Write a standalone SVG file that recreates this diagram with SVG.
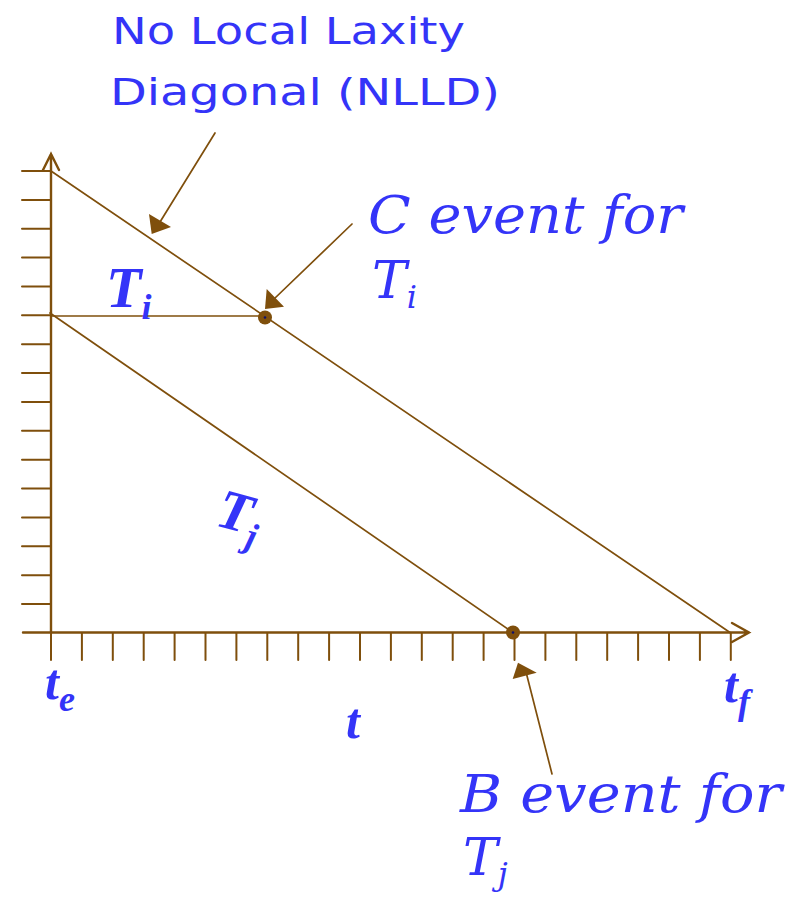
<svg xmlns="http://www.w3.org/2000/svg" width="798" height="899" viewBox="0 0 798 899">
<defs>
<style>
.ln{stroke:#7f4f0c;fill:none;stroke-linecap:round}
.ax{stroke-width:2.4}
.tk{stroke-width:2}
.dg{stroke-width:1.7}
.hd{fill:#7f4f0c;stroke:none}
.lbl{fill:#3434f8}
.hand{font-family:"DejaVu Sans",sans-serif;font-size:38px}
.scr{font-family:"DejaVu Serif",serif;font-style:italic;font-size:52px}
.mth{font-family:"Liberation Serif",serif;font-style:italic;font-weight:bold}
</style>
</defs>
<rect width="798" height="899" fill="#fff"/>
<g id="axes">
<path class="ln ax" d="M51,633 V154 M43,170 L51,154 L59,170"/>
<path class="ln ax" d="M23,632.5 H749 M732,623 L749,632.5 L732,642"/>
<path class="ln tk" d="M22,171H51M22,199.9H51M22,228.7H51M22,257.6H51M22,286.5H51M22,315.3H51M22,344.2H51M22,373.1H51M22,401.9H51M22,430.8H51M22,459.7H51M22,488.6H51M22,517.4H51M22,546.3H51M22,575.2H51M22,604H51"/>
<path class="ln tk" d="M51,633V660M81.9,633V660M112.8,633V660M143.7,633V660M174.6,633V660M205.5,633V660M236.4,633V660M267.3,633V660M298.2,633V660M329.1,633V660M360,633V660M390.9,633V660M421.8,633V660M452.7,633V660M483.6,633V660M514.5,633V660M545.4,633V660M576.3,633V660M607.2,633V660M638.1,633V660M669,633V660M699.9,633V660M730.8,633V660"/>
</g>
<g id="nlld">
<path class="ln dg" d="M51,171 L730,632.5"/>
</g>
<g id="ti-line">
<path class="ln dg" d="M51,316 H265"/>
</g>
<g id="tj-line">
<path class="ln dg" d="M50,313 L513,632.5"/>
</g>
<g id="connectors">
<path class="ln dg" d="M215,133 L160,222"/>
<polygon class="hd" points="151.7,234 149,214 171,227"/>
<path class="ln dg" d="M352,224 L274,299"/>
<polygon class="hd" points="265,309 266.7,289 284,306.7"/>
<path class="ln dg" d="M552,774 L525,668"/>
<polygon class="hd" points="512.7,679 518,662.7 536.7,672.7"/>
</g>
<g id="c-event-point">
<circle cx="265" cy="317.5" r="7" fill="#7f4f0c"/>
<circle cx="265" cy="317.5" r="1.3" fill="#10106a"/>
</g>
<g id="b-event-point">
<circle cx="513" cy="632.5" r="7" fill="#7f4f0c"/>
<circle cx="513" cy="632.5" r="1.3" fill="#10106a"/>
</g>
<g id="labels">
<text class="lbl hand" x="112" y="44" textLength="353" lengthAdjust="spacingAndGlyphs">No Local Laxity</text>
<text class="lbl hand" x="110" y="105" textLength="390" lengthAdjust="spacingAndGlyphs">Diagonal (NLLD)</text>
<text class="lbl scr" x="368" y="233" textLength="315" lengthAdjust="spacingAndGlyphs">C event for</text>
<text class="lbl scr" x="372" y="298">T<tspan font-size="32" dy="10">i</tspan></text>
<text class="lbl scr" x="460" y="812" textLength="322" lengthAdjust="spacingAndGlyphs">B event for</text>
<text class="lbl scr" x="463" y="875">T<tspan font-size="32" dy="10">j</tspan></text>
<text class="lbl mth" x="106" y="307" font-size="58">T<tspan font-size="36" dy="12">i</tspan></text>
<text class="lbl mth" font-size="56" transform="translate(214,525) rotate(15)">T<tspan font-size="36" dy="13">j</tspan></text>
<text class="lbl mth" x="45" y="699" font-size="50">t<tspan font-size="36" dy="12">e</tspan></text>
<text class="lbl mth" x="346" y="738" font-size="50">t</text>
<text class="lbl mth" x="724" y="702" font-size="50">t<tspan font-size="36" dy="12">f</tspan></text>
</g>
</svg>
